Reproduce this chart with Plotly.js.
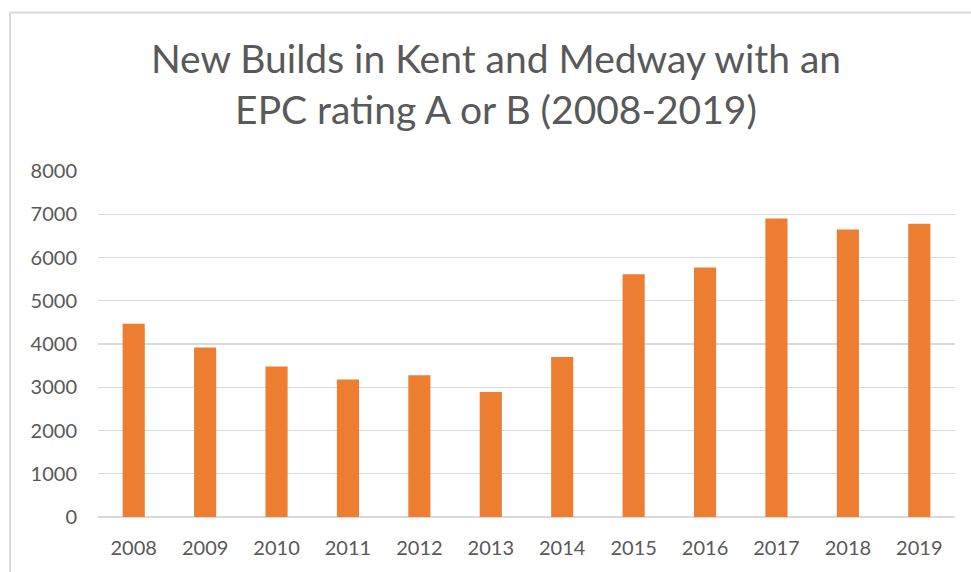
<!DOCTYPE html>
<html>
<head>
<meta charset="utf-8">
<script src="https://cdn.plot.ly/plotly-3.0.1.min.js"></script>
<style>html,body{margin:0;padding:0;background:#fff;}#chart{width:971px;height:572px;}</style>
</head>
<body>
<div id="chart"></div>
<script>
const years = ['2008','2009','2010','2011','2012','2013','2014','2015','2016','2017','2018','2019'];
const newBuildsAB = [4470, 3920, 3480, 3180, 3280, 2890, 3700, 5610, 5770, 6900, 6650, 6780];
const yTickValues = [0, 1000, 2000, 3000, 4000, 5000, 6000, 7000, 8000];
const chartTitle = 'New Builds in Kent and Medway with an<br>EPC rating A or B (2008-2019)';

const trace = {
  type: 'bar',
  x: years,
  y: newBuildsAB,
  marker: {color: '#ED7D31'},
  hoverinfo: 'x+y'
};

const layout = {
  width: 971,
  height: 572,
  margin: {l: 98, r: 16, t: 171, b: 55},
  paper_bgcolor: '#ffffff',
  plot_bgcolor: '#ffffff',
  font: {family: 'Lato, sans-serif', color: '#595959'},
  title: {
    text: chartTitle,
    font: {family: 'Lato, sans-serif', size: 39, color: '#595959'},
    x: 496 / 971,
    xref: 'container',
    xanchor: 'center',
    y: 1 - 73 / 572,
    yref: 'container',
    yanchor: 'top'
  },
  bargap: 0.69,
  showlegend: false,
  xaxis: {
    type: 'category',
    tickfont: {size: 20, color: '#595959'},
    showgrid: false,
    showline: false,
    ticks: '',
    ticklabelstandoff: 17
  },
  yaxis: {
    range: [0, 8000],
    tickvals: yTickValues,
    ticktext: yTickValues.map(String),
    tickfont: {size: 20, color: '#595959'},
    showgrid: true,
    gridcolor: '#d9d9d9',
    gridwidth: 1.3,
    zeroline: true,
    zerolinecolor: '#d9d9d9',
    zerolinewidth: 1.3,
    showline: false,
    ticks: '',
    ticklabelstandoff: 20
  },
  shapes: [
    {type: 'line', xref: 'paper', yref: 'paper', x0: (10 - 98) / 857, x1: 2, y0: (517 - 12.5) / 346, y1: (517 - 12.5) / 346, line: {color: '#d9d9d9', width: 2}},
    {type: 'line', xref: 'paper', yref: 'paper', x0: (10 - 98) / 857, x1: (10 - 98) / 857, y0: (517 - 12.5) / 346, y1: -1, line: {color: '#d9d9d9', width: 2}}
  ]
};

Plotly.newPlot('chart', [trace], layout, {displayModeBar: false, staticPlot: true});
</script>
</body>
</html>
